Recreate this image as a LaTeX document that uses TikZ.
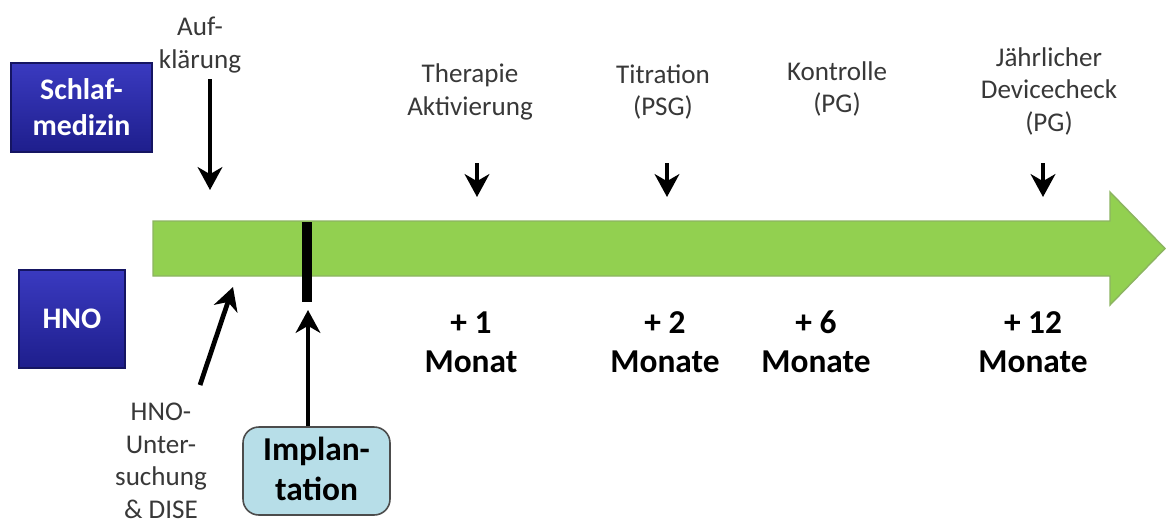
\documentclass[tikz,border=0pt]{standalone}
\usepackage{fontspec}
\setmainfont{Carlito}
\usetikzlibrary{arrows.meta}
\definecolor{zeitgruen}{RGB}{146,208,80}
\definecolor{abtoben}{RGB}{58,58,192}
\definecolor{abtunten}{RGB}{30,30,140}
\definecolor{implblau}{RGB}{183,222,232}

\begin{document}
\begin{tikzpicture}[x=0.02cm, y=-0.02cm,
    lbl/.style={align=center, text=black!78, font=\fontsize{15.4}{18.5}\selectfont},
    gross/.style={align=center, font=\fontsize{19}{22.2}\selectfont\bfseries},
    pfeil/.style={line width=2.7pt, -{Stealth[length=13pt, width=14pt, inset=4pt]}},
    abt/.style={draw=abtunten!70!black, line width=0.8pt, top color=abtoben, bottom color=abtunten,
        text=white, align=center, inner sep=0pt, font=\fontsize{17}{20.5}\selectfont\bfseries}]
    \useasboundingbox (0,0) rectangle (1167,525);

    % Zeitstrahl
    \fill[zeitgruen, draw=zeitgruen!65!gray, line width=0.8pt]
        (153,221) -- (1110,221) -- (1110,192) -- (1165,248.5) -- (1110,305) -- (1110,276) -- (153,276) -- cycle;
    \draw[line width=5.7pt] (307,222) -- (307,302);

    % Abteilungen
    \node[abt, minimum width=2.82cm, minimum height=1.78cm] (schlaf) at (81.5,107.5) {Schlaf-\\medizin};
    \node[abt, minimum width=2.12cm, minimum height=1.96cm] (hno) at (72,319) {HNO};

    % oben
    \node[lbl] (auf) at (200,45) {Auf-\\klärung};
    \coordinate (aufend) at (210,190);
    \draw[pfeil] (auf.south -| aufend) -- (aufend);

    \foreach \x/\y/\txt/\name in {470/92/{Therapie\\Aktivierung}/ther, 663/92/{Titration\\(PSG)}/titr,
        837/89/{Kontrolle\\(PG)}/kontr, 1049/91/{Jährlicher\\Devicecheck\\(PG)}/jahr} {
        \node[lbl] (\name) at (\x,\y) {\txt};
    }
    \foreach \x/\name in {477/ther, 667/titr, 1043/jahr} {
        \coordinate (\name end) at (\x,197);
        \draw[pfeil] (\x,163) -- (\name end);
    }

    % unten
    \foreach \x/\n/\w in {471/1/Monat, 665/2/Monate, 816/6/Monate, 1033/12/Monate} {
        \node[gross] (m\n) at (\x,342) {+ \n\\\w};
    }

    \node[lbl, inner sep=1pt] (unters) at (161,461) {HNO-\\Unter-\\suchung\\\& DISE};
    \coordinate (untersend) at (233,287);
    \draw[pfeil] (200,385) -- (untersend);

    \node[draw=black!70, line width=0.9pt, fill=implblau, rounded corners=9pt, minimum width=2.94cm, minimum height=1.76cm,
        align=center, font=\fontsize{19}{22.8}\selectfont\bfseries] (impl) at (316.5,471) {Implan-\\tation\vphantom{p}};
    \coordinate (implend) at (308,310);
    \draw[pfeil] (impl.north -| implend) -- (implend);
\end{tikzpicture}
\end{document}
